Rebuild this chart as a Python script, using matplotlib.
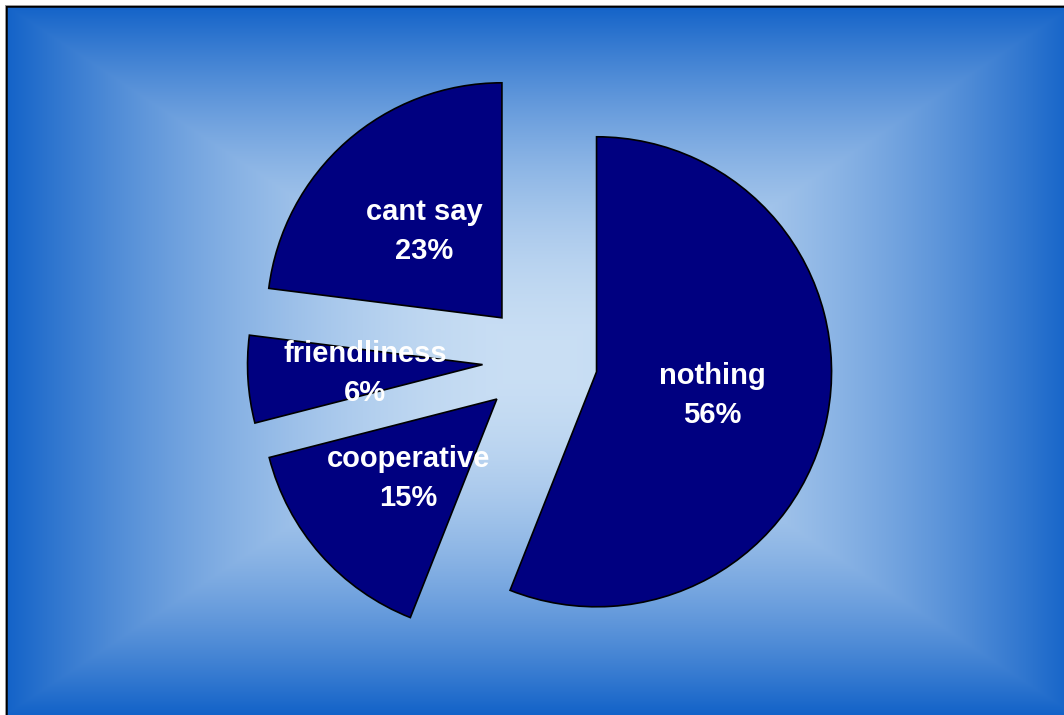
import numpy as np
import matplotlib
matplotlib.use("Agg")
import matplotlib.pyplot as plt
from matplotlib.colors import to_rgb
from matplotlib.transforms import offset_copy

# Survey answers, listed clockwise from 12 o'clock
categories = ["nothing", "cooperative", "friendliness", "cant say"]
shares = [56, 15, 6, 23]

W, H = 1064, 715
fig = plt.figure(figsize=(W / 100, H / 100), dpi=100, facecolor="white")
ax = fig.add_axes([0, 0, 1, 1])

# Rectangular "from centre" gradient: pale blue middle, saturated blue rim
cx, cy = 540, 360
hw, hh = 535, 355
xs = np.arange(W) + 0.5
ys = np.arange(H) + 0.5
X, Y = np.meshgrid(xs, ys)
t = np.maximum(np.abs(X - cx) / hw, np.abs(Y - cy) / hh)
t = np.clip(t, 0, 1) ** 1.8
c0 = np.array(to_rgb("#cadff4"))
c1 = np.array(to_rgb("#1262c8"))
img = c0[None, None, :] * (1 - t[..., None]) + c1[None, None, :] * t[..., None]
# white margin at the very top and left, outside the frame
img[:5, :, :] = 1.0
img[:, :5, :] = 1.0
ax.imshow(img, extent=[0, W, 0, H], origin="upper", interpolation="bilinear", zorder=0)

# Frame line on the top and left edges
ax.plot([6, 6, W + 5], [-5, H - 6, H - 6], color="black", lw=1.8,
        solid_joinstyle="miter", zorder=1)
ax.plot([4.5, 4.5], [-5, H - 4.5], color="#9a9a9a", lw=0.7, zorder=1)
ax.plot([4.5, W + 5], [H - 4.5, H - 4.5], color="#9a9a9a", lw=0.7, zorder=1)

radius = 235
labels = [f"{c}\n{v}%" for c, v in zip(categories, shares)]
wedges, texts = ax.pie(
    shares,
    labels=labels,
    explode=[0.245 * radius] * len(shares),
    startangle=90,
    counterclock=False,
    center=(540, H - 361),
    radius=radius,
    labeldistance=0.5,
    colors=["#000080"] * len(shares),
    wedgeprops=dict(edgecolor="black", linewidth=1.2),
    textprops=dict(color="white", fontsize=21, fontweight="bold",
                   family="Liberation Sans"),
    frame=True,
)
for w in wedges:
    w.set_zorder(2)
for tx in texts:
    tx.set_ha("center")
    tx.set_va("center")
    tx.set_multialignment("center")
    tx.set_linespacing(1.5)
    tx.set_transform(offset_copy(ax.transData, fig=fig, x=0, y=-2, units="dots"))
    tx.set_zorder(3)

ax.set_xlim(0, W)
ax.set_ylim(0, H)
ax.set_aspect("auto")
ax.axis("off")

fig.savefig("out.png", dpi=100, facecolor="white")
